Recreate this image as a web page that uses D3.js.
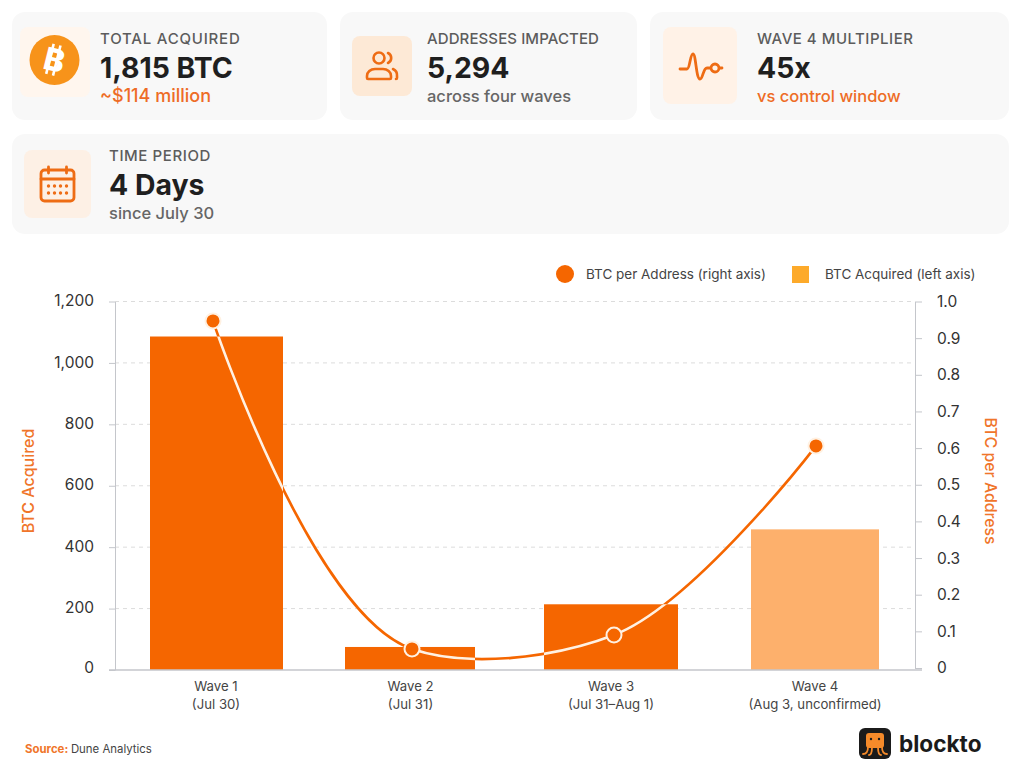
<!DOCTYPE html>
<html>
<head>
<meta charset="utf-8">
<script src="https://cdn.jsdelivr.net/npm/d3@7"></script>
<style>
  html, body { margin: 0; padding: 0; background: #fff; }
  svg { display: block; font-family: Inter, "Noto Sans", sans-serif; }
  .axis path, .axis line { stroke: #c4c6cb; }
  .axis text { font-size: 15.5px; fill: #333; font-family: Inter, sans-serif; }
  .grid line { stroke: #dcdcdc; stroke-dasharray: 4 4; }
</style>
</head>
<body>
<div id="chart"></div>
<script>
// chart data
const waves = ['Wave 1', 'Wave 2', 'Wave 3', 'Wave 4'];
const waveDates = ['(Jul 30)', '(Jul 31)', '(Jul 31–Aug 1)', '(Aug 3, unconfirmed)'];
const btcAcquired = [1086, 75, 214, 458];
const btcPerAddress = [0.947, 0.052, 0.09, 0.606];
const unconfirmed = ['Wave 4'];
const leftTicks = [0, 200, 400, 600, 800, 1000, 1200];
const rightTicks = [0, 0.1, 0.2, 0.3, 0.4, 0.5, 0.6, 0.7, 0.8, 0.9, 1.0];

// stat cards
const cardLabels = ['TOTAL ACQUIRED', 'ADDRESSES IMPACTED', 'WAVE 4 MULTIPLIER', 'TIME PERIOD'];
const cardValues = ['1,815 BTC', '5,294', '45x', '4 Days'];
const cardNotes = ['~$114 million', 'across four waves', 'vs control window', 'since July 30'];

const ORANGE = '#f56600', LIGHT = '#fdb06c', CREAM = '#fff1e2';

const svg = d3.select('#chart').append('svg').attr('width', 1024).attr('height', 778);

// --- cards ---
const cardBox = [[12, 12, 315, 108], [340, 12, 297, 108], [650, 12, 359, 108], [12, 134, 997, 100]];
const iconBox = [[20, 27, 70, 70, '#fff6ee'], [352, 36, 60, 60, '#fde9d6'], [663, 27, 74, 77, '#fff2e7'], [24, 150, 67, 68, '#fdf0e5']];
const textX = [100, 427, 757, 109];
const textY = [44, 44, 44, 161];
const noteColor = ['#ee6c26', '#666', '#ee6c26', '#666'];
const noteSize = [18, 16.5, 16.5, 16.5];
const labelSpacing = [0.8, 0.1, 0.5, 0.6];

const cards = svg.selectAll('g.card').data(cardLabels).join('g').attr('class', 'card');
cards.append('rect')
  .attr('x', (d, i) => cardBox[i][0]).attr('y', (d, i) => cardBox[i][1])
  .attr('width', (d, i) => cardBox[i][2]).attr('height', (d, i) => cardBox[i][3])
  .attr('rx', 13).attr('fill', '#f8f8f8');
cards.append('rect')
  .attr('x', (d, i) => iconBox[i][0]).attr('y', (d, i) => iconBox[i][1])
  .attr('width', (d, i) => iconBox[i][2]).attr('height', (d, i) => iconBox[i][3])
  .attr('rx', 8).attr('fill', (d, i) => iconBox[i][4]);
cards.append('text').text(d => d)
  .attr('x', (d, i) => textX[i]).attr('y', (d, i) => textY[i])
  .attr('font-size', 15).attr('font-weight', 500).attr('letter-spacing', (d, i) => labelSpacing[i]).attr('fill', '#5c5c5c');
cards.append('text').text((d, i) => cardValues[i])
  .attr('x', (d, i) => textX[i]).attr('y', (d, i) => textY[i] + 34)
  .attr('font-size', 28.4).attr('font-weight', 700).attr('fill', '#1f1f1f');
cards.append('text').text((d, i) => cardNotes[i])
  .attr('x', (d, i) => textX[i]).attr('y', (d, i) => textY[i] + 57.5)
  .attr('font-size', (d, i) => noteSize[i]).attr('font-weight', 500).attr('fill', (d, i) => noteColor[i]);

// --- icons ---
const btc = svg.append('g').attr('transform', 'translate(54.5,60)');
btc.append('circle').attr('r', 25).attr('fill', '#f7931a');
const btcMark = btc.append('g').attr('transform', 'rotate(14)');
btcMark.append('text').text('B').attr('text-anchor', 'middle').attr('y', 11)
  .attr('font-size', 31).attr('font-weight', 800).attr('fill', '#fff');
btcMark.selectAll('rect').data([-5, 2]).join('rect')
  .attr('x', d => d - 1).attr('y', -15.5).attr('width', 2.6).attr('height', 31).attr('fill', '#fff');

const people = svg.append('g').attr('transform', 'translate(382,66)')
  .attr('fill', 'none').attr('stroke', '#ee6c14').attr('stroke-width', 2.6).attr('stroke-linecap', 'round');
people.append('circle').attr('cx', -3).attr('cy', -8).attr('r', 5.5);
people.append('path').attr('d', 'M-15 12 v-2 a8 7 0 0 1 8 -7 h8 a8 7 0 0 1 8 7 v2 q0 1 -1 1 h-22 q-1 0 -1 -1z');
people.append('path').attr('d', 'M6 -13 a5.5 5.5 0 0 1 0 10 M11 3 a7 7 0 0 1 4 7 v2 q0 1 -1 1');

svg.append('path').attr('transform', 'translate(680,68)')
  .attr('d', 'M0 1 h7 c3 0 3 -15 6 -15 c3 0 3 25 7 25 c3 0 3 -11 7 -11 h4 a4 4 0 1 0 8 0 a4 4 0 1 0 -8 0 M39 0 h3')
  .attr('fill', 'none').attr('stroke', '#ee6c14').attr('stroke-width', 2.8).attr('stroke-linecap', 'round');

const cal = svg.append('g').attr('transform', 'translate(57.5,184)')
  .attr('fill', 'none').attr('stroke', '#ee6c14').attr('stroke-width', 2.8).attr('stroke-linecap', 'round');
cal.append('rect').attr('x', -16.5).attr('y', -14).attr('width', 33).attr('height', 31).attr('rx', 3.5);
cal.append('path').attr('d', 'M-16.5 -5 h33 M-9 -17 v6 M9 -17 v6');
cal.selectAll('circle').data(d3.cross([-9, -3, 3, 9], [2, 9])).join('circle')
  .attr('cx', d => d[0]).attr('cy', d => d[1]).attr('r', 1.7)
  .attr('fill', '#ee6c14').attr('stroke', 'none');

// --- scales ---
const yBase = 670, yTop = 301.5, xLeft = 115, xRight = 915;
const yLeft = d3.scaleLinear().domain([0, 1200]).range([yBase, yTop]);
const yRight = d3.scaleLinear().domain([0, 1]).range([668, yTop]);
const barStart = d3.scaleOrdinal(waves, [150, 345, 544, 751]);
const barWidth = d3.scaleOrdinal(waves, [133, 130, 134, 128]);
const labelX = d3.scaleOrdinal(waves, [216, 410.5, 611, 815]);
const pointX = d3.scaleOrdinal(waves, [213, 412, 614, 816]);

// --- gridlines ---
svg.append('g').attr('class', 'grid').selectAll('line')
  .data(leftTicks.filter(d => d > 0)).join('line')
  .attr('x1', xLeft).attr('x2', xRight)
  .attr('y1', d => yLeft(d)).attr('y2', d => yLeft(d));

// --- bars ---
svg.append('g').selectAll('rect').data(waves).join('rect')
  .attr('x', d => barStart(d)).attr('width', d => barWidth(d))
  .attr('y', (d, i) => yLeft(btcAcquired[i]))
  .attr('height', (d, i) => yLeft(0) - yLeft(btcAcquired[i]))
  .attr('fill', d => unconfirmed.includes(d) ? LIGHT : ORANGE);

// --- axes ---
const axisL = svg.append('g').attr('class', 'axis').attr('transform', `translate(${xLeft},0)`)
  .call(d3.axisLeft(yLeft).tickValues(leftTicks).tickFormat(d3.format(',')).tickSize(6).tickPadding(15).tickSizeOuter(0));
const axisR = svg.append('g').attr('class', 'axis').attr('transform', `translate(${xRight},0)`)
  .call(d3.axisRight(yRight).tickValues(rightTicks).tickFormat(d => d === 0 ? '0' : d3.format('.1f')(d)).tickSize(7).tickPadding(15).tickSizeOuter(0));
axisL.selectAll('text').attr('dy', d => d === 0 ? '0.15em' : '0.27em');
svg.append('line').attr('x1', 109).attr('x2', 922).attr('y1', yBase).attr('y2', yBase)
  .attr('stroke', '#c4c6cb').attr('stroke-width', 1.5);

// x labels
const xl = svg.append('g').selectAll('g').data(waves).join('g')
  .attr('transform', d => `translate(${labelX(d)},0)`)
  .attr('text-anchor', 'middle').attr('font-size', 13.2).attr('fill', '#444');
xl.append('text').attr('y', 691).text(d => d);
xl.append('text').attr('y', 709).text((d, i) => waveDates[i]);

// --- line: orange on white, cream where it crosses a bar ---
const line = d3.line()
  .x((d, i) => pointX(waves[i]))
  .y(d => yRight(d))
  .curve(d3.curveCatmullRom.alpha(0.9));

svg.append('clipPath').attr('id', 'barClip').selectAll('rect').data(waves).join('rect')
  .attr('x', d => barStart(d)).attr('width', d => barWidth(d))
  .attr('y', (d, i) => yLeft(btcAcquired[i]))
  .attr('height', (d, i) => yLeft(0) - yLeft(btcAcquired[i]));

svg.append('path').attr('d', line(btcPerAddress))
  .attr('fill', 'none').attr('stroke', ORANGE).attr('stroke-width', 2.6);
svg.append('path').attr('d', line(btcPerAddress)).attr('clip-path', 'url(#barClip)')
  .attr('fill', 'none').attr('stroke', CREAM).attr('stroke-width', 2.6);

svg.append('g').selectAll('circle').data(btcPerAddress).join('circle')
  .attr('cx', (d, i) => pointX(waves[i])).attr('cy', d => yRight(d))
  .attr('r', 7.5).attr('fill', ORANGE).attr('stroke', CREAM).attr('stroke-width', 2);

// --- axis titles ---
svg.append('text').text('BTC Acquired')
  .attr('transform', 'translate(34,481) rotate(-90)').attr('text-anchor', 'middle')
  .attr('font-size', 16).attr('font-weight', 500).attr('fill', '#f0752a');
svg.append('text').text('BTC per Address')
  .attr('transform', 'translate(985,481) rotate(90)').attr('text-anchor', 'middle')
  .attr('font-size', 15.8).attr('font-weight', 500).attr('fill', '#f0752a');

// --- legend ---
svg.append('circle').attr('cx', 565).attr('cy', 274).attr('r', 9).attr('fill', ORANGE);
svg.append('text').text('BTC per Address (right axis)').attr('x', 586).attr('y', 279)
  .attr('font-size', 13.5).attr('fill', '#444');
svg.append('rect').attr('x', 792).attr('y', 266).attr('width', 17).attr('height', 17).attr('fill', '#fdaa2a');
svg.append('text').text('BTC Acquired (left axis)').attr('x', 825).attr('y', 279)
  .attr('font-size', 13.5).attr('fill', '#444');

// --- footer ---
const src = svg.append('text').attr('x', 25).attr('y', 753).attr('font-size', 11.4);
src.append('tspan').text('Source: ').attr('font-weight', 700).attr('fill', '#f0752a');
src.append('tspan').text('Dune Analytics').attr('fill', '#444');

// logo
const logo = svg.append('g').attr('transform', 'translate(859,728)');
logo.append('rect').attr('width', 32).attr('height', 31).attr('rx', 6).attr('fill', '#1b1b1b');
logo.append('rect').attr('x', 7).attr('y', 5).attr('width', 18).attr('height', 15).attr('rx', 3).attr('fill', '#f58a2a');
logo.append('path').attr('d', 'M9 19 q0 7 -5 7 M13 19 q0 8 -3 8 M19 19 q0 8 3 8 M23 19 q0 7 5 7')
  .attr('fill', 'none').attr('stroke', '#f58a2a').attr('stroke-width', 1.8).attr('stroke-linecap', 'round');
logo.selectAll('circle').data([12, 20]).join('circle')
  .attr('cx', d => d).attr('cy', 11).attr('r', 1.2).attr('fill', '#1b1b1b');
svg.append('text').text('blockto').attr('x', 899).attr('y', 752)
  .attr('font-size', 22.6).attr('font-weight', 700).attr('fill', '#1b1b1b');
</script>
</body>
</html>
